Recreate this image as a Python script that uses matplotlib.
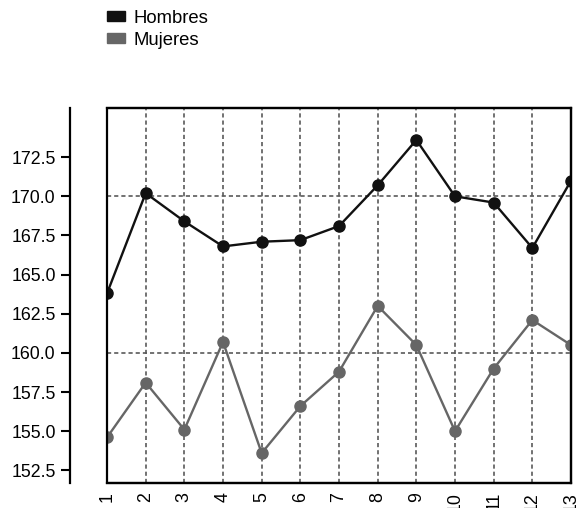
"""Line chart of heights by group (Hombres / Mujeres)."""

import matplotlib

matplotlib.use("Agg")
import matplotlib.pyplot as plt
from matplotlib.patches import Patch, Rectangle

plt.rcParams["font.family"] = ["Liberation Sans", "DejaVu Sans"]

x_values = list(range(1, 14))
hombres = [163.8, 170.2, 168.4, 166.8, 167.1, 167.2, 168.1, 170.7, 173.6, 170.0, 169.6, 166.7, 171.0]
mujeres = [154.6, 158.1, 155.1, 160.7, 153.6, 156.6, 158.8, 163.0, 160.5, 155.0, 159.0, 162.1, 160.5]
y_ticks = [152.5, 155.0, 157.5, 160.0, 162.5, 165.0, 167.5, 170.0, 172.5]
h_grid = [160.0, 170.0]

black = "#111111"
gray = "#666666"
grid_color = "#5a5a5a"

fig = plt.figure(figsize=(5.81, 5.08), dpi=100)
axis = fig.add_axes([0.1842, 0.0492, 0.7986, 0.7382])

axis.set_xlim(1, 13)
axis.set_ylim(151.69, 175.64)

# grid: every x, only two horizontal lines
for xv in x_values:
	axis.axvline(xv, color=grid_color, lw=1.2, ls=(0, (2.5, 1.8)), zorder=1)
for yv in h_grid:
	axis.axhline(yv, color=grid_color, lw=1.2, ls=(0, (2.5, 1.8)), zorder=1)

axis.plot(x_values, hombres, color=black, lw=1.7, marker="o", ms=8, zorder=3)
axis.plot(x_values, mujeres, color=gray, lw=1.7, marker="o", ms=8, zorder=3)

# box around the plotting region, y axis drawn apart from it
for side in ("top", "right", "bottom"):
	axis.spines[side].set_linewidth(1.6)
axis.spines["left"].set_position(("outward", 27))
axis.spines["left"].set_linewidth(1.6)
axis.add_patch(Rectangle((0, 0), 1, 1, transform=axis.transAxes, fill=False,
	lw=1.6, edgecolor="black", clip_on=False, zorder=4))

axis.set_yticks(y_ticks)
axis.set_yticklabels([f"{v:.1f}" for v in y_ticks])
axis.tick_params(axis="y", length=6.5, width=1.5, pad=3.5, labelsize=12.8)

axis.set_xticks(x_values)
axis.set_xticklabels([str(v) for v in x_values], rotation=90)
axis.tick_params(axis="x", length=0, pad=6.5, labelsize=12.8)

handles = [Patch(facecolor=black, edgecolor=black), Patch(facecolor=gray, edgecolor=gray)]
fig.legend(handles, ["Hombres", "Mujeres"], loc="upper left",
	bbox_to_anchor=(107 / 581, 1 - 10 / 508), frameon=False, fontsize=13.3,
	borderpad=0, borderaxespad=0, handlelength=1.0, handleheight=0.45,
	handletextpad=0.45, labelspacing=0.25)

fig.savefig("out.png", dpi=100)
